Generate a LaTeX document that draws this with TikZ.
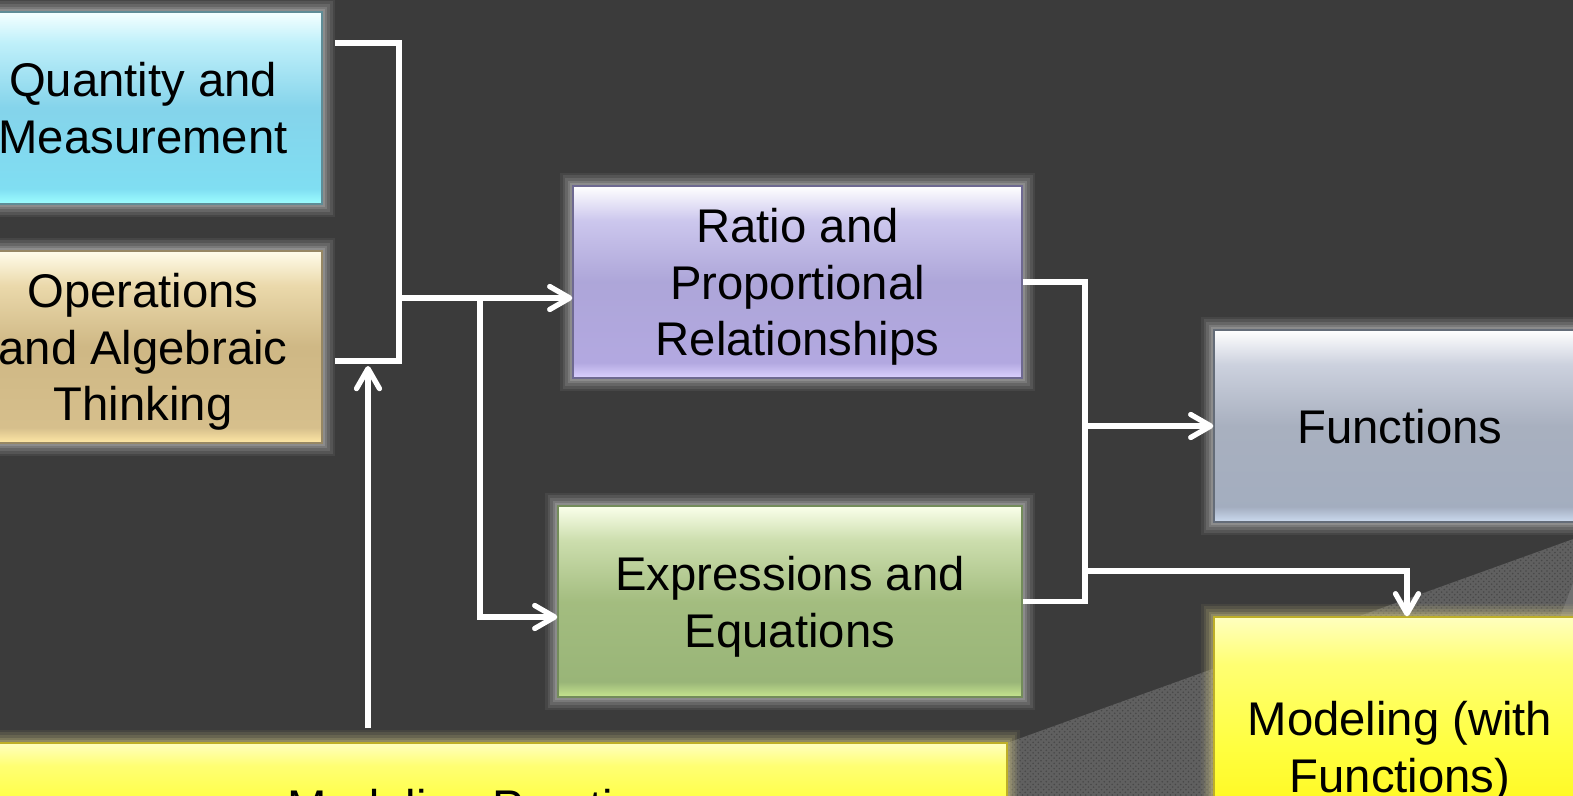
\documentclass[tikz,border=0pt]{standalone}
\usepackage{fontspec}
\setmainfont{Liberation Sans}
\usetikzlibrary{arrows.meta,patterns}

\definecolor{slidebg}{RGB}{59,59,59}
\definecolor{wedgegrey}{RGB}{96,96,96}
\definecolor{wedgedots}{RGB}{72,72,72}
\definecolor{wedgelight}{RGB}{112,112,112}
\definecolor{qmline}{RGB}{95,140,150}
\definecolor{oatline}{RGB}{150,135,100}
\definecolor{ratline}{RGB}{110,105,145}
\definecolor{expline}{RGB}{115,140,90}
\definecolor{funline}{RGB}{100,108,120}
\definecolor{yelline}{RGB}{190,175,40}
\definecolor{greyglow}{RGB}{200,200,200}
\definecolor{yelglow}{RGB}{205,195,130}

% box fills, bottom (25bp) to top (75bp)
\pgfdeclareverticalshading{qmshade}{100bp}{rgb(0bp)=(.62,1,1); rgb(25bp)=(.62,1,1); rgb(29bp)=(.50,.87,.95); rgb(50bp)=(.52,.83,.92); rgb(67bp)=(.75,.94,.98); rgb(75bp)=(.96,1,1); rgb(100bp)=(.96,1,1)}
\pgfdeclareverticalshading{oatshade}{100bp}{rgb(0bp)=(1,.91,.65); rgb(25bp)=(1,.91,.65); rgb(29bp)=(.84,.75,.55); rgb(50bp)=(.81,.72,.52); rgb(66bp)=(.92,.85,.67); rgb(75bp)=(1,.99,.92); rgb(100bp)=(1,.99,.92)}
\pgfdeclareverticalshading{ratshade}{100bp}{rgb(0bp)=(.86,.82,1); rgb(25bp)=(.86,.82,1); rgb(29bp)=(.70,.66,.88); rgb(50bp)=(.68,.65,.85); rgb(66bp)=(.80,.78,.93); rgb(75bp)=(1,1,1); rgb(100bp)=(1,1,1)}
\pgfdeclareverticalshading{expshade}{100bp}{rgb(0bp)=(.78,.90,.56); rgb(25bp)=(.78,.90,.56); rgb(29bp)=(.60,.71,.47); rgb(50bp)=(.64,.74,.50); rgb(66bp)=(.80,.87,.68); rgb(75bp)=(.98,1,.92); rgb(100bp)=(.98,1,.92)}
\pgfdeclareverticalshading{funshade}{100bp}{rgb(0bp)=(.80,.86,.94); rgb(25bp)=(.80,.86,.94); rgb(29bp)=(.64,.68,.75); rgb(50bp)=(.66,.69,.75); rgb(66bp)=(.80,.82,.87); rgb(75bp)=(1,1,1); rgb(100bp)=(1,1,1)}
\pgfdeclareverticalshading{yelshade}{100bp}{rgb(0bp)=(1,.94,0); rgb(25bp)=(1,.94,0); rgb(50bp)=(1,1,.25); rgb(66bp)=(1,1,.45); rgb(75bp)=(1,1,.75); rgb(100bp)=(1,1,.75)}

\newcommand{\slidefont}{\fontsize{26.9}{32.3}\selectfont}

\tikzset{
  glow/.style={preaction={draw=#1,line width=15pt,opacity=.08},
               preaction={draw=#1,line width=12pt,opacity=.12},
               preaction={draw=#1,line width=9pt,opacity=.15},
               preaction={draw=#1,line width=6pt,opacity=.2},
               preaction={draw=#1,line width=3pt,opacity=.25}},
  box/.style={rectangle,inner sep=0pt,align=center,font=\slidefont,text=black,
              text depth=0pt,line width=.8pt},
  wire/.style={draw=white,line width=3pt},
  arrow/.style={wire,-{Straight Barb[length=0.4cm,width=0.46cm,round]}}
}

\begin{document}
\begin{tikzpicture}[x=0.02cm,y=-0.02cm]
  \useasboundingbox (0,0) rectangle (1573,795);
  \clip (0,0) rectangle (1573,795);
  \fill[slidebg] (-10,-10) rectangle (1590,810);

  % zoom wedge behind the modeling boxes
  \fill[wedgegrey] (1007,743) -- (1590,533) -- (1590,810) -- (1007,810) -- cycle;
  \fill[pattern=crosshatch dots,pattern color=wedgedots] (1007,743) -- (1590,533) -- (1590,810) -- (1007,810) -- cycle;
  \fill[wedgelight] (1560,617) -- (1582,560) -- (1590,557) -- (1590,617) -- cycle;

  \node[box,glow=greyglow,shading=qmshade,draw=qmline,minimum width=7.16cm,minimum height=3.84cm] (qm) at (143,108) {Quantity and\\Measurement};
  \node[box,glow=greyglow,shading=oatshade,draw=oatline,minimum width=7.16cm,minimum height=3.84cm] (oat) at (143,347) {Operations\\and Algebraic\\Thinking};
  \node[box,glow=greyglow,shading=ratshade,draw=ratline,minimum width=8.98cm,minimum height=3.84cm] (rat) at (797.5,282) {Ratio and\\Proportional\\Relationships};
  \node[box,glow=greyglow,shading=expshade,draw=expline,minimum width=9.28cm,minimum height=3.82cm] (exp) at (790,601.5) {Expressions and\\Equations};
  \node[box,glow=greyglow,shading=funshade,draw=funline,minimum width=7.44cm,minimum height=3.84cm] (fun) at (1400,426) {Functions};
  \node[box,glow=yelglow,shading=yelshade,draw=yelline,minimum width=7.44cm,minimum height=5.2cm] (mwf) at (1400,747) {Modeling (with\\Functions)};
  \node[box,glow=yelglow,shading=yelshade,draw=yelline,minimum width=20.8cm,minimum height=2.52cm] (mp) at (487,806) {Modeling Practices};

  \coordinate (qmout) at (335,43);
  \coordinate (oatout) at (335,361);
  \coordinate (j1) at (399,298);
  \coordinate (j2) at (480,298);
  \coordinate (mpout) at (368,728);
  \coordinate (mpin) at (368,366);
  \coordinate (j3) at (1085,426);
  \coordinate (j4) at (1085,571);

  \draw[wire] (qmout) -| (j1) |- (oatout);
  \draw[arrow] (j1) -- (j1 -| rat.west);
  \draw[arrow] (j2) |- ([yshift=-0.31cm]exp.west);
  \draw[arrow] (mpout) -- (mpin);
  \draw[wire] (rat.east) -| (j3) |- (exp.east);
  \draw[arrow] (j3) -- (fun.west);
  \draw[arrow] (j4) -| ([xshift=0.14cm]mwf.north);
\end{tikzpicture}
\end{document}
